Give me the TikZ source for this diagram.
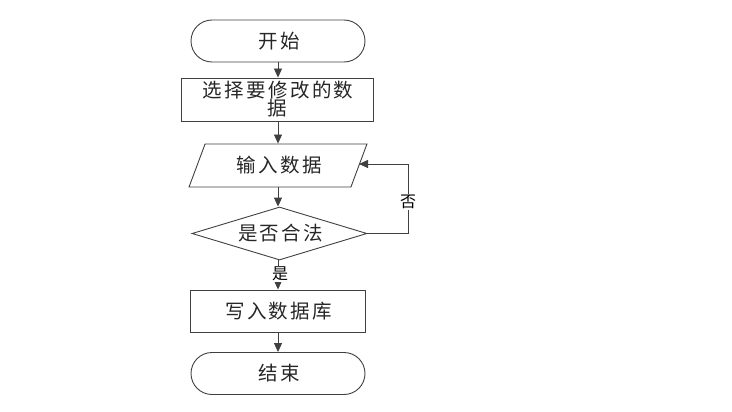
\documentclass[tikz,border=0pt]{standalone}
\usepackage{fontspec}
\newfontfamily\cjk[LetterSpace=12]{Noto Sans CJK SC}
\usetikzlibrary{shapes.geometric,shapes.misc,arrows.meta}
\begin{document}
\begin{tikzpicture}[x=1pt,y=-1pt,
  every node/.style={font=\cjk\fontsize{19.5}{20}\selectfont, text=black!85},
  lineclr/.style={draw=black!75, line width=0.9pt},
  term/.style={lineclr, rounded rectangle, minimum width=174pt, minimum height=42pt, inner sep=0pt},
  proc/.style={lineclr, rectangle, inner sep=0pt},
  io/.style={lineclr, trapezium, trapezium left angle=62, trapezium right angle=118, minimum width=178pt, minimum height=43pt, inner sep=0pt, trapezium stretches=true},
  dec/.style={lineclr, diamond, minimum width=175pt, minimum height=53pt, inner sep=0pt, aspect=3.3},
  arr/.style={lineclr, -{Triangle[length=9pt,width=8pt]}},
  lbl/.style={fill=white, inner sep=1pt, font=\cjk\fontsize{16}{17}\selectfont, text=black}
]
\useasboundingbox (0,0) rectangle (732,412);
\node[term] (start) at (278,41) {\hspace*{2.3pt}开始};
\node[proc, minimum width=192pt, minimum height=43pt, align=center] (sel) at (277,99.5) {\hspace*{2.3pt}选择要修改的数\\[-2pt]据};
\node[io] (inp) at (278,165.5) {\hspace*{2.3pt}输入数据};
\node[dec, minimum width=175pt, minimum height=53pt] (chk) at (279.5,233.5) {\hspace*{2.3pt}是否合法};
\node[proc, minimum width=175pt, minimum height=42pt] (wr) at (277.5,311) {\hspace*{2.3pt}写入数据库};
\node[term] (end) at (278,373.5) {\hspace*{2.3pt}结束};
\coordinate (c1) at (408,233.5);
\coordinate (c2) at (408,164);
\coordinate (c3) at (359,164);
\draw[arr] (start.south) -- (sel.north -| start.south);
\draw[arr] (sel.south -| start.south) -- (inp.north -| start.south);
\draw[arr] (inp.south -| start.south) -- (chk.north -| start.south);
\draw[arr] (chk.south -| start.south) -- node[pos=0.45, lbl, xshift=2pt] (yes) {是} (wr.north -| start.south);
\draw[arr] (wr.south -| start.south) -- (end.north -| start.south);
\draw[arr] (chk.east) -- (c1) -- node[pos=0.45, lbl] (no) {否} (c2) -- (c3);
\end{tikzpicture}
\end{document}
